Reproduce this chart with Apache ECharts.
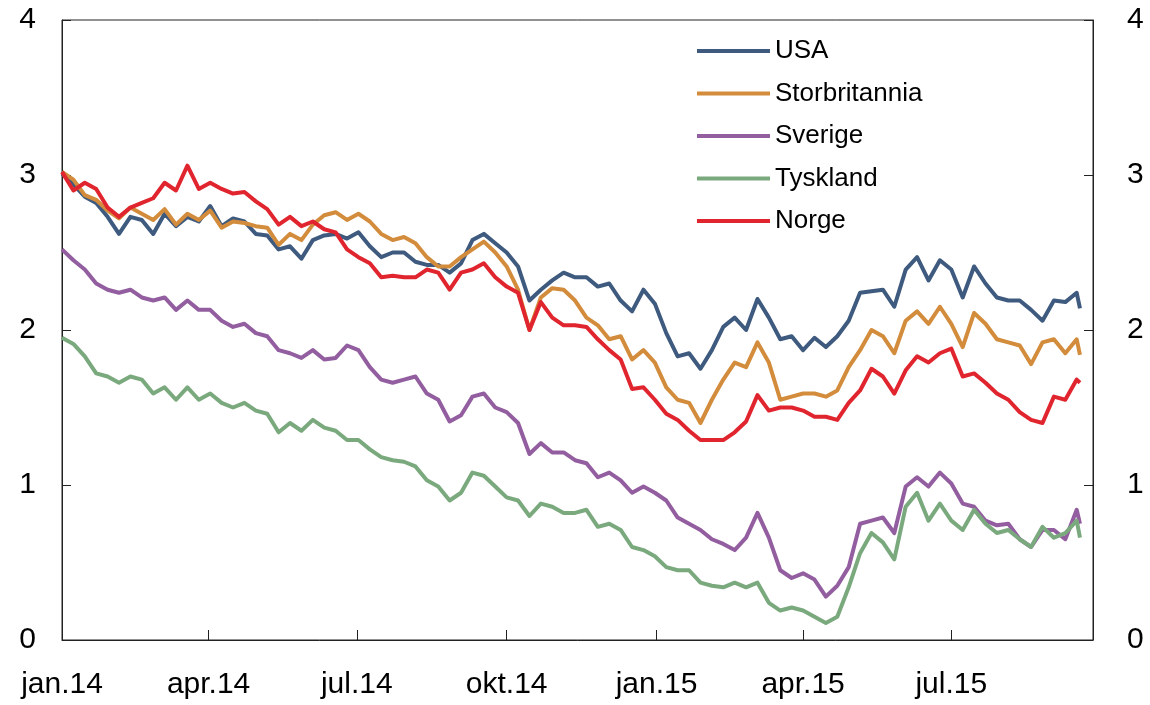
<!DOCTYPE html>
<html>
<head>
<meta charset="utf-8">
<script src="https://cdn.jsdelivr.net/npm/echarts@6/dist/echarts.min.js"></script>
<style>
  html, body { margin: 0; padding: 0; background: #fff; }
  #chart { width: 1150px; height: 705px; }
</style>
</head>
<body>
<div id="chart"></div>
<script>
// ukentlige observasjoner, fra 1. jan. 2014
var startDate = new Date(2014, 0, 1);
var stepDays = 7;
var nWeeks = 90;
var lastDate = '2015-09-18';

var tickDates = ['2014-01-01', '2014-04-01', '2014-07-01', '2014-10-01', '2015-01-01', '2015-04-01', '2015-07-01'];
var tickLabels = ['jan.14', 'apr.14', 'jul.14', 'okt.14', 'jan.15', 'apr.15', 'jul.15'];
var axisEnd = '2015-09-26';

var names = ['USA', 'Storbritannia', 'Sverige', 'Tyskland', 'Norge'];
var colors = ['#3e5a7e', '#d38c3c', '#935ea0', '#7aa97e', '#e1252f'];

var usa = [3.01, 2.94, 2.86, 2.82, 2.73, 2.62, 2.73, 2.71, 2.62, 2.75,
  2.67, 2.73, 2.70, 2.80, 2.67, 2.72, 2.70, 2.62, 2.61, 2.52,
  2.54, 2.46, 2.58, 2.61, 2.62, 2.59, 2.63, 2.54, 2.47, 2.50,
  2.50, 2.44, 2.42, 2.42, 2.37, 2.43, 2.58, 2.62, 2.56, 2.50,
  2.41, 2.19, 2.26, 2.32, 2.37, 2.34, 2.34, 2.28, 2.30, 2.19,
  2.12, 2.26, 2.17, 1.98, 1.83, 1.85, 1.75, 1.87, 2.02, 2.08,
  2.00, 2.20, 2.08, 1.94, 1.96, 1.87, 1.95, 1.89, 1.96, 2.06,
  2.24, 2.25, 2.26, 2.15, 2.39, 2.47, 2.32, 2.45, 2.39, 2.21,
  2.41, 2.30, 2.21, 2.19, 2.19, 2.13, 2.06, 2.19, 2.18, 2.24, 2.14];

var storbritannia = [3.02, 2.97, 2.87, 2.84, 2.77, 2.72, 2.79, 2.75, 2.71, 2.78,
  2.68, 2.75, 2.71, 2.77, 2.66, 2.70, 2.69, 2.67, 2.66, 2.55,
  2.62, 2.58, 2.68, 2.74, 2.76, 2.71, 2.75, 2.70, 2.62, 2.58,
  2.60, 2.56, 2.47, 2.41, 2.41, 2.47, 2.52, 2.57, 2.50, 2.41,
  2.26, 2.00, 2.21, 2.27, 2.26, 2.19, 2.08, 2.03, 1.94, 1.96,
  1.81, 1.87, 1.79, 1.63, 1.55, 1.53, 1.40, 1.55, 1.68, 1.79,
  1.76, 1.92, 1.79, 1.55, 1.57, 1.59, 1.59, 1.57, 1.61, 1.76,
  1.87, 2.00, 1.96, 1.85, 2.06, 2.12, 2.04, 2.15, 2.04, 1.89,
  2.11, 2.04, 1.94, 1.92, 1.90, 1.78, 1.92, 1.94, 1.85, 1.94, 1.84];

var sverige = [2.52, 2.45, 2.39, 2.30, 2.26, 2.24, 2.26, 2.21, 2.19, 2.21,
  2.13, 2.19, 2.13, 2.13, 2.06, 2.02, 2.04, 1.98, 1.96, 1.87,
  1.85, 1.82, 1.87, 1.81, 1.82, 1.90, 1.87, 1.76, 1.68, 1.66,
  1.68, 1.70, 1.59, 1.55, 1.41, 1.45, 1.57, 1.59, 1.50, 1.47,
  1.40, 1.20, 1.27, 1.21, 1.21, 1.16, 1.14, 1.05, 1.08, 1.03,
  0.95, 0.99, 0.95, 0.90, 0.79, 0.75, 0.71, 0.65, 0.62, 0.58,
  0.66, 0.82, 0.66, 0.45, 0.40, 0.43, 0.39, 0.28, 0.35, 0.47,
  0.75, 0.77, 0.79, 0.69, 0.99, 1.05, 0.99, 1.08, 1.01, 0.88,
  0.86, 0.77, 0.74, 0.75, 0.65, 0.60, 0.71, 0.71, 0.65, 0.84, 0.75];

var tyskland = [1.95, 1.91, 1.83, 1.72, 1.70, 1.66, 1.70, 1.68, 1.59, 1.63,
  1.55, 1.63, 1.55, 1.59, 1.53, 1.50, 1.53, 1.48, 1.46, 1.34,
  1.40, 1.35, 1.42, 1.37, 1.35, 1.29, 1.29, 1.23, 1.18, 1.16,
  1.15, 1.12, 1.03, 0.99, 0.90, 0.95, 1.08, 1.06, 0.99, 0.92,
  0.90, 0.80, 0.88, 0.86, 0.82, 0.82, 0.84, 0.73, 0.75, 0.71,
  0.60, 0.58, 0.54, 0.47, 0.45, 0.45, 0.37, 0.35, 0.34, 0.37,
  0.34, 0.37, 0.24, 0.19, 0.21, 0.19, 0.15, 0.11, 0.15, 0.34,
  0.56, 0.69, 0.63, 0.52, 0.86, 0.95, 0.77, 0.88, 0.77, 0.71,
  0.84, 0.75, 0.69, 0.71, 0.65, 0.60, 0.73, 0.66, 0.69, 0.77, 0.66];

var norge = [3.02, 2.90, 2.95, 2.91, 2.79, 2.73, 2.79, 2.82, 2.85, 2.95,
  2.90, 3.06, 2.91, 2.95, 2.91, 2.88, 2.89, 2.83, 2.78, 2.68,
  2.73, 2.67, 2.70, 2.65, 2.63, 2.52, 2.47, 2.43, 2.34, 2.35,
  2.34, 2.34, 2.39, 2.37, 2.26, 2.37, 2.39, 2.43, 2.34, 2.28,
  2.24, 2.00, 2.18, 2.08, 2.03, 2.03, 2.02, 1.94, 1.87, 1.81,
  1.62, 1.63, 1.55, 1.46, 1.42, 1.35, 1.29, 1.29, 1.29, 1.34,
  1.41, 1.58, 1.48, 1.50, 1.50, 1.48, 1.44, 1.44, 1.42, 1.53,
  1.61, 1.75, 1.70, 1.59, 1.74, 1.83, 1.79, 1.85, 1.88, 1.70,
  1.72, 1.66, 1.59, 1.55, 1.47, 1.42, 1.40, 1.57, 1.55, 1.68, 1.66];

var allValues = [usa, storbritannia, sverige, tyskland, norge];

function toTime(s) {
  var p = s.split('-');
  return new Date(+p[0], +p[1] - 1, +p[2]).getTime();
}

// datoer som tidsstempler (ms)
var times = [];
for (var k = 0; k < nWeeks; k++) {
  times.push(new Date(startDate.getFullYear(), startDate.getMonth(), startDate.getDate() + k * stepDays).getTime());
}
times.push(toTime(lastDate));

var tickTimes = tickDates.map(toTime);

var chart = echarts.init(document.getElementById('chart'));

var axisColor = '#222';
var fontFamily = 'Liberation Sans, Arial, sans-serif';

var series = names.map(function (name, i) {
  return {
    name: name,
    type: 'line',
    showSymbol: false,
    symbol: 'none',
    data: times.map(function (t, j) { return [t, allValues[i][j]]; }),
    lineStyle: { color: colors[i], width: 4, join: 'round' },
    itemStyle: { color: colors[i] },
    emphasis: { disabled: true },
    z: 2 + i
  };
});

function yAxis(pos, margin) {
  return {
    type: 'value',
    position: pos,
    min: 0,
    max: 4,
    interval: 1,
    axisLine: { show: true, onZero: false, lineStyle: { color: axisColor, width: 1 } },
    axisTick: { show: true, inside: true, length: 9, lineStyle: { color: axisColor } },
    axisLabel: { fontSize: 30, color: '#000', fontFamily: fontFamily, margin: margin },
    splitLine: { show: false }
  };
}

chart.setOption({
  animation: false,
  backgroundColor: '#fff',
  grid: {
    left: 62, right: 57, top: 20, bottom: 65,
    show: true, borderColor: axisColor, borderWidth: 1, backgroundColor: 'transparent'
  },
  legend: {
    orient: 'vertical',
    left: 692,
    top: 33,
    itemWidth: 73,
    itemHeight: 4,
    itemGap: 16.5,
    icon: 'rect',
    data: names,
    textStyle: { fontSize: 26, color: '#000', fontFamily: fontFamily, lineHeight: 26 }
  },
  xAxis: {
    type: 'value',
    min: tickTimes[0],
    max: toTime(axisEnd),
    axisLine: { show: true, onZero: false, lineStyle: { color: axisColor, width: 1 } },
    axisTick: { show: true, inside: true, length: 10, customValues: tickTimes, lineStyle: { color: axisColor } },
    axisLabel: {
      customValues: tickTimes,
      fontSize: 30,
      color: '#000',
      fontFamily: fontFamily,
      margin: 30,
      showMinLabel: true,
      formatter: function (v) {
        var idx = tickTimes.indexOf(v);
        return idx >= 0 ? tickLabels[idx] : '';
      }
    },
    splitLine: { show: false }
  },
  yAxis: [yAxis('left', 26), yAxis('right', 34)],
  series: series
});
</script>
</body>
</html>
